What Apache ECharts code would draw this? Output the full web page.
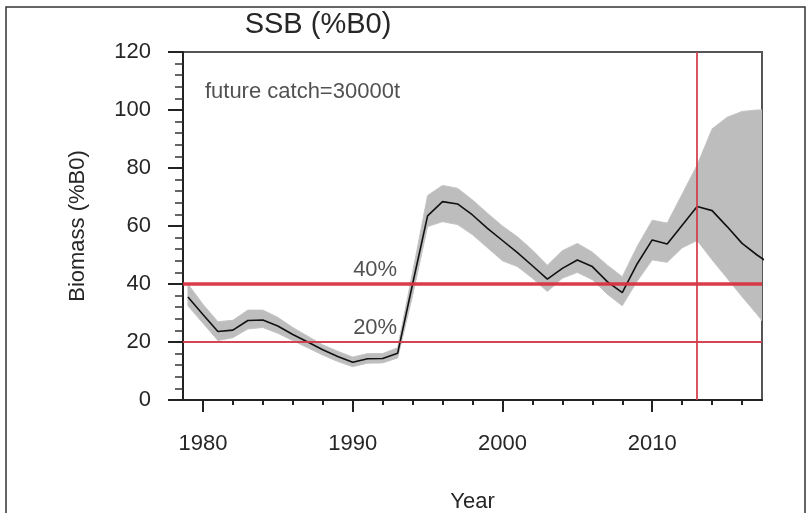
<!DOCTYPE html>
<html><head><meta charset="utf-8">
<script src="https://cdn.jsdelivr.net/npm/echarts@6/dist/echarts.min.js"></script>
<style>html,body{margin:0;padding:0;background:#fff}#c{width:810px;height:513px}</style>
</head><body><div id="c"></div>
<script>
const years = [1979,1980,1981,1982,1983,1984,1985,1986,1987,1988,1989,1990,1991,1992,1993,1994,1995,1996,1997,1998,1999,2000,2001,2002,2003,2004,2005,2006,2007,2008,2009,2010,2011,2012,2013,2014,2015,2016,2017,2018];
const ssb   = [35.5,29.5,23.6,24.1,27.4,27.6,25.5,22.6,20.0,17.3,15.0,13.0,14.2,14.3,16.1,40.0,63.5,68.4,67.6,63.8,59.2,55.0,50.8,46.3,41.7,45.4,48.3,46.0,40.8,37.0,47.0,55.2,53.8,60.3,66.7,65.3,59.8,54.0,50.0,46.5];
const lower = [32.5,26.5,20.5,21.5,24.5,25.0,23.0,20.5,18.0,15.5,13.3,11.5,12.7,12.8,14.5,36.0,59.8,61.5,60.5,57.0,52.5,48.0,46.0,42.0,37.4,42.0,44.0,41.5,36.5,32.5,41.0,48.3,47.5,52.5,55.0,48.3,42.0,35.6,29.5,23.0];
const upper = [40.0,33.0,27.0,27.5,31.0,31.0,28.5,25.0,22.0,19.0,16.8,14.8,16.0,16.0,18.0,44.0,70.5,74.0,73.0,69.0,64.4,60.0,56.3,51.7,46.5,51.5,54.0,51.0,46.5,42.5,53.0,62.0,61.0,71.0,81.0,93.5,97.5,99.5,100.0,100.0];
const xMajorTicks = [1980,1990,2000,2010];
const xMinorTicks = [1982,1984,1986,1988,1992,1994,1996,1998,2002,2004,2006,2008,2012,2014,2016];
const yTicks = [0,20,40,60,80,100,120];
const refLevels = [40,20];
const refLabels = ['40%','20%'];
const refLabelPos = [[1991.5,44.8],[1991.5,24.8]];
const projYear = 2013;
const noteText = 'future catch=30000t';
const notePos = [1980.1,106.2];

const FONT = '"Liberation Sans", Arial, sans-serif';
const TXT = '#262626';
const chart = echarts.init(document.getElementById('c'), null, {renderer:'canvas'});

const xBase = {
  type:'value', min:1978.67, max:2017.33, gridIndex:0,
  splitLine:{show:false}, position:'bottom'
};

const option = {
  animation:false,
  backgroundColor:'#fff',
  title:{text:'SSB (%B0)', left:313, top:5, textAlign:'center',
    textStyle:{fontFamily:FONT, fontSize:29, fontWeight:'normal', color:TXT}},
  graphic:[{type:'rect', shape:{x:6,y:7,width:799,height:530}, style:{fill:null, stroke:'#333', lineWidth:1.5}, silent:true}],
  grid:{left:183, right:48, top:52, bottom:113, show:true, borderColor:'#555', borderWidth:2,
    backgroundColor:'transparent', containLabel:false, outerBoundsMode:'none'},
  xAxis:[
    Object.assign({}, xBase, {
      name:'Year', nameLocation:'middle', nameGap:91,
      nameTextStyle:{fontFamily:FONT, fontSize:22, color:TXT},
      axisLine:{show:true, lineStyle:{color:'#222', width:2}},
      axisTick:{show:true, customValues:xMajorTicks, length:12, lineStyle:{color:'#222', width:2}},
      axisLabel:{customValues:xMajorTicks, margin:33, fontFamily:FONT, fontSize:22, color:TXT,
        formatter:function(v){return String(Math.round(v));}},
    }),
    Object.assign({}, xBase, {
      axisLine:{show:false},
      axisTick:{show:true, customValues:xMinorTicks, length:5, lineStyle:{color:'#222', width:2}},
      axisLabel:{show:false}
    })
  ],
  yAxis:{
    type:'value', min:0, max:120, interval:20,
    name:'Biomass (%B0)', nameLocation:'middle', nameGap:94,
    nameTextStyle:{fontFamily:FONT, fontSize:22, color:TXT},
    axisLine:{show:true, lineStyle:{color:'#222', width:2}},
    axisTick:{show:true, length:15, lineStyle:{color:'#222', width:2}},
    minorTick:{show:true, splitNumber:5, length:8, lineStyle:{color:'#333', width:1.5}},
    splitLine:{show:false},
    axisLabel:{margin:32, fontFamily:FONT, fontSize:22, color:TXT,
      customValues:yTicks}
  },
  series:[
    {
      type:'custom', name:'band', clip:true, z:1, silent:true,
      data:[[2000,50]],
      renderItem:function(params, api){
        const pts = [];
        for (let i=0;i<years.length;i++) pts.push(api.coord([years[i], upper[i]]));
        for (let i=years.length-1;i>=0;i--) pts.push(api.coord([years[i], lower[i]]));
        return {type:'polygon', shape:{points:pts}, style:{fill:'#bdbdbd', stroke:'#c4c4c4', lineWidth:1}};
      }
    },
    {
      type:'line', name:'SSB', z:3, showSymbol:false, symbol:'none', clip:true,
      data: years.map((y,i)=>[y, ssb[i]]),
      lineStyle:{color:'#111', width:1.6}
    },
    {
      type:'line', name:'ref', z:5, data:[], showSymbol:false,
      markLine:{
        silent:true, symbol:['none','none'], label:{show:false}, animation:false,
        data:[
          {yAxis:refLevels[0], lineStyle:{color:'#d7303f', width:3.5, type:'solid', opacity:0.95}},
          {yAxis:refLevels[1], lineStyle:{color:'#d23a48', width:1.8, type:'solid', opacity:0.95}},
          {xAxis:projYear, lineStyle:{color:'#d23a48', width:1.8, type:'solid', opacity:0.95}}
        ]
      }
    },
    {
      type:'scatter', name:'reflabels', z:6, symbolSize:1, silent:true,
      itemStyle:{color:'rgba(0,0,0,0)'},
      data: refLabelPos.map((p,i)=>({value:p, label:{show:true, formatter:refLabels[i]}})),
      label:{show:true, position:'inside', fontFamily:FONT, fontSize:22, color:TXT}
    },
    {
      type:'scatter', name:'note', z:6, symbolSize:1, silent:true,
      itemStyle:{color:'rgba(0,0,0,0)'},
      data:[{value:notePos, label:{show:true, formatter:noteText}}],
      label:{show:true, position:'right', distance:0, fontFamily:FONT, fontSize:22, color:TXT}
    }
  ]
};
chart.setOption(option);
</script></body></html>
